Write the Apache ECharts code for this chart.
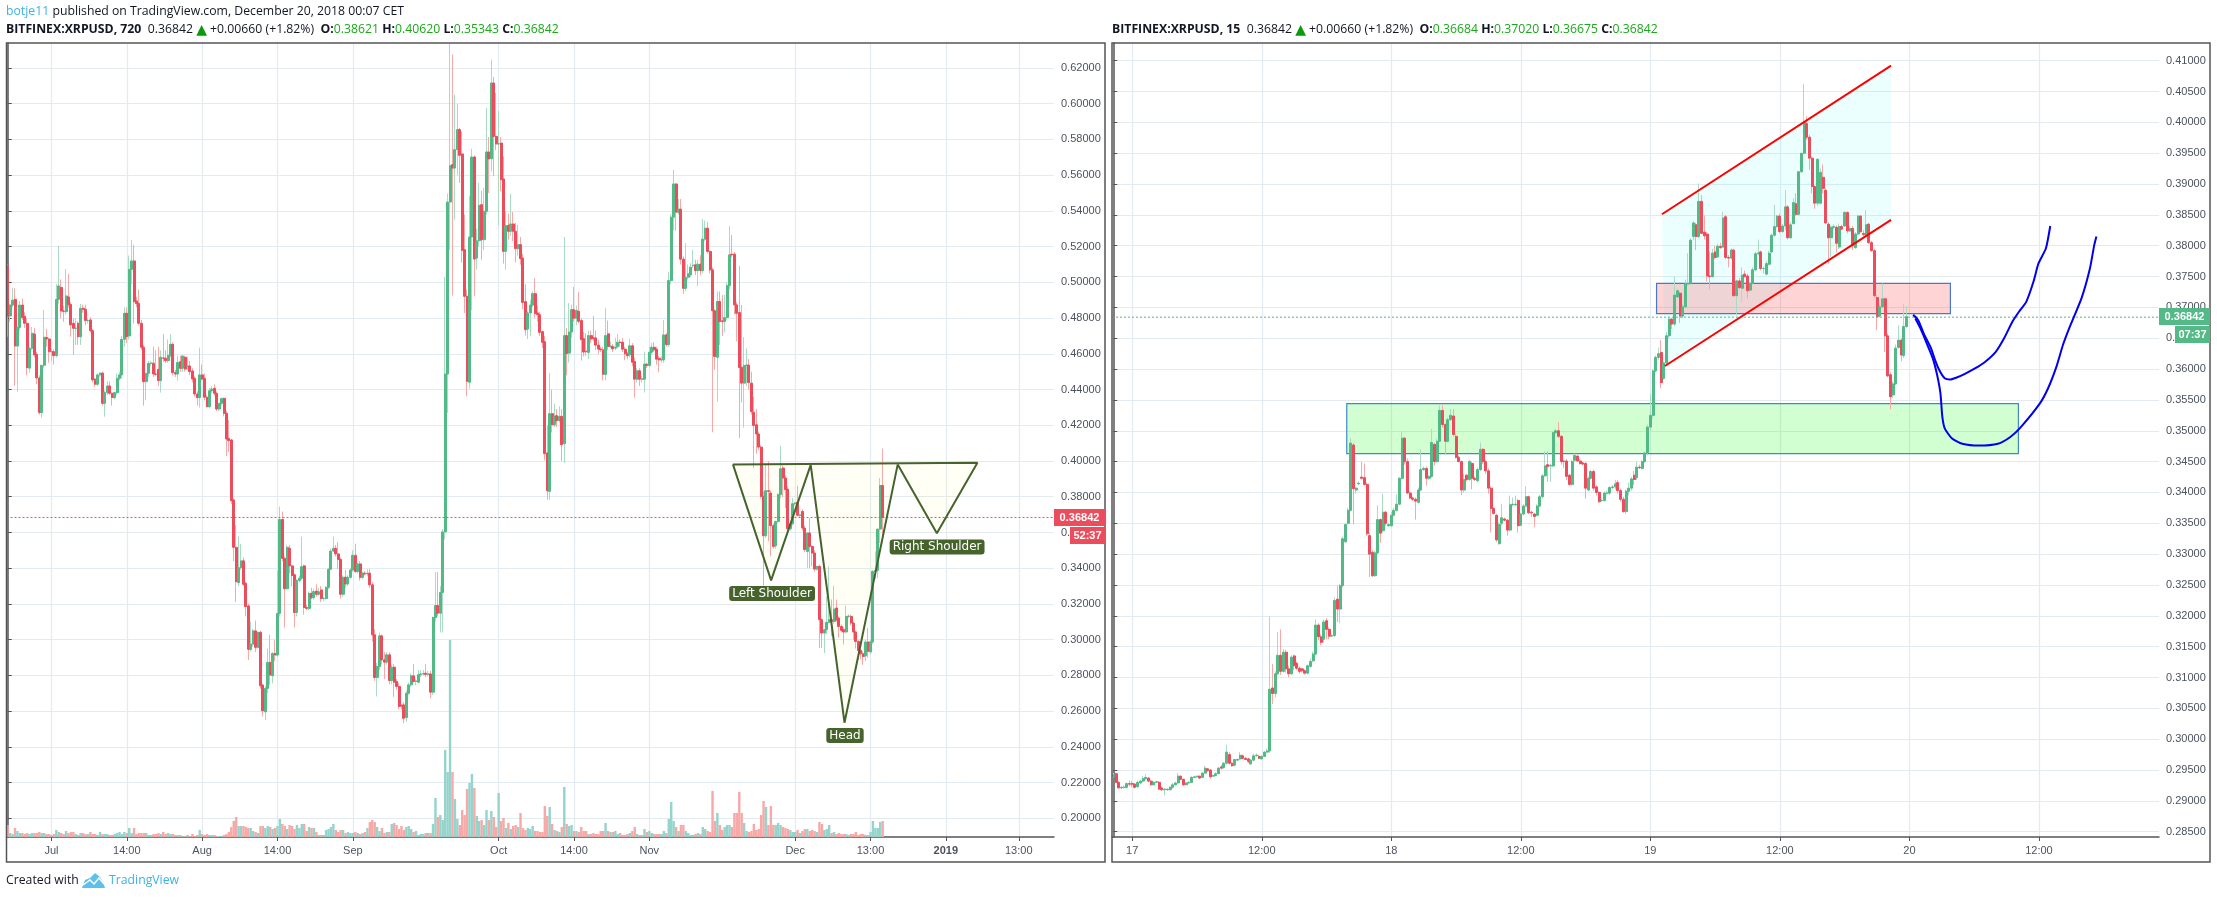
<!DOCTYPE html>
<html><head><meta charset="utf-8"><title>XRPUSD</title>
<style>html,body{margin:0;padding:0;background:#fff}#c{width:2217px;height:899px}</style>
<script src="https://cdn.jsdelivr.net/npm/echarts@6/dist/echarts.min.js"></script></head>
<body><div id="c"></div><script>
// Prices are in 1/10000 USD.
const lOpen=[5092,4812,4873,4905,4644,4748,4873,4810,4771,4520,
4631,4711,4598,4465,4271,4536,4691,4683,4612,4612,
4590,4905,4972,4840,4836,4918,4877,4771,4743,4771,
4696,4855,4849,4786,4790,4730,4458,4430,4482,4492,
4323,4383,4420,4379,4355,4383,4463,4482,4681,4827,
4700,5073,5120,4896,4883,4771,4637,4444,4491,4547,
4547,4487,4513,4450,4577,4575,4562,4592,4653,4495,
4487,4556,4519,4581,4528,4532,4504,4463,4375,4355,
4482,4463,4357,4304,4393,4407,4379,4291,4323,4351,
4267,4127,4118,3782,3517,3319,3403,3441,3316,3189,
2946,2975,3049,2957,3041,2746,2596,2727,2873,2798,
2923,2914,3147,3673,3455,3285,3511,3413,3363,3152,
3331,3344,3413,3180,3175,3259,3235,3272,3254,3278,
3230,3230,3293,3394,3496,3511,3480,3449,3254,3349,
3312,3349,3390,3472,3381,3424,3349,3372,3368,3372,
3307,3027,2788,2850,3021,2887,2874,2915,2771,2846,
2766,2738,2631,2635,2564,2700,2747,2797,2766,2762,
2803,2808,2812,2806,2808,2706,3124,3191,3148,3264,
3603,4487,5450,5659,5640,5743,5855,5719,5183,4922,
4441,5254,5702,5136,5233,5435,5239,5398,5730,5692,
6116,5817,5775,5780,5579,5174,5319,5286,5327,5286,
5189,5211,5136,4892,4739,4829,4873,4937,4829,4819,
4724,4668,4045,3830,4265,4203,4254,4226,4250,4097,
4702,4604,4722,4847,4799,4838,4786,4685,4614,4608,
4702,4689,4689,4649,4627,4622,4485,4712,4642,4641,
4632,4641,4665,4665,4626,4600,4594,4645,4557,4458,
4505,4458,4458,4542,4535,4609,4637,4626,4575,4566,
4566,4706,4652,5010,5365,5551,5393,5410,5130,4967,
5029,5042,5094,5098,5066,5102,5066,5242,5303,5173,
5070,4841,4581,4893,4785,4781,4803,4982,5158,5158,
4874,4831,4525,4436,4535,4537,4436,4273,4203,4151,
4078,3802,3582,3834,3821,3638,3526,3662,3812,3961,
3905,3843,3621,3649,3761,3769,3696,3718,3625,3494,
3597,3522,3485,3395,3410,3112,3037,3056,3097,3112,
3102,3177,3121,3074,3056,3043,3130,3130,3093,3043,
2990,2940,2921,2910,2987,2931,2987,3382,3388,3619,3863];
const lClose=[4812,4873,4901,4644,4748,4873,4803,4771,4523,4631,
4715,4594,4465,4271,4536,4693,4683,4612,4613,4590,
4905,4980,4840,4838,4924,4877,4762,4743,4744,4696,
4855,4849,4786,4787,4730,4454,4430,4482,4492,4323,
4383,4420,4379,4355,4383,4463,4482,4681,4827,4696,
5073,5120,4892,4881,4771,4637,4444,4491,4547,4548,
4487,4486,4450,4581,4575,4562,4592,4653,4495,4487,
4552,4519,4588,4515,4532,4500,4459,4375,4355,4482,
4459,4357,4304,4393,4403,4379,4291,4323,4351,4267,
4123,4114,3778,3517,3325,3403,3441,3310,3185,2946,
2975,3049,2957,3041,2742,2602,2727,2873,2802,2923,
2914,3147,3673,3455,3285,3517,3413,3359,3152,3331,
3344,3409,3180,3175,3259,3235,3269,3254,3268,3230,
3231,3293,3394,3496,3511,3480,3449,3254,3349,3312,
3349,3390,3472,3381,3424,3349,3372,3368,3372,3307,
3027,2788,2850,3021,2887,2874,2915,2771,2846,2762,
2738,2626,2629,2560,2700,2747,2797,2766,2768,2803,
2808,2810,2806,2808,2706,3124,3191,3148,3264,3603,
4487,5450,5653,5640,5743,5855,5711,5179,4922,4446,
5254,5702,5131,5233,5431,5239,5398,5730,5691,6116,
5817,5775,5776,5575,5174,5319,5286,5327,5286,5189,
5211,5133,4888,4735,4829,4873,4937,4825,4819,4720,
4664,4041,3834,4265,4203,4250,4226,4250,4091,4702,
4601,4722,4847,4799,4843,4782,4679,4610,4612,4702,
4683,4687,4649,4627,4623,4486,4702,4641,4644,4628,
4637,4665,4663,4626,4600,4590,4645,4553,4458,4505,
4458,4460,4542,4535,4609,4637,4622,4570,4566,4568,
4706,4652,5010,5365,5551,5393,5410,5130,4967,5029,
5048,5085,5096,5066,5102,5066,5242,5303,5173,5070,
4841,4585,4893,4781,4781,4803,4982,5154,5154,4874,
4827,4523,4436,4535,4537,4439,4277,4199,4151,4078,
3802,3582,3834,3830,3638,3522,3662,3812,3957,3905,
3840,3621,3649,3761,3765,3696,3698,3625,3504,3597,
3522,3485,3395,3410,3112,3037,3056,3097,3112,3102,
3171,3112,3074,3052,3043,3130,3132,3093,3043,2990,
2940,2921,2906,2987,2935,2987,3382,3388,3619,3863,3684];
const lHigh=[5100,4880,4970,4967,4755,4896,4910,4835,4800,4640,
4750,4745,4610,4480,4285,4845,4740,4690,4630,4625,
4990,5204,5017,4870,5075,5047,4890,4800,4800,4780,
4880,4875,4875,4800,4805,4740,4465,4490,4495,4500,
4395,4445,4445,4385,4390,4490,4500,4700,4860,4860,
5150,5237,5209,4920,4960,4790,4650,4470,4560,4560,
4640,4620,4640,4620,4711,4620,4680,4710,4665,4510,
4590,4590,4590,4590,4585,4560,4520,4475,4390,4635,
4540,4490,4370,4410,4420,4430,4390,4300,4340,4355,
4280,4230,4125,3790,3640,3577,3536,3460,3325,3200,
3101,3060,3107,3045,3050,2750,2740,2950,3026,2930,
3000,3387,3745,3717,3465,3530,3530,3420,3370,3340,
3360,3577,3420,3195,3270,3290,3285,3310,3290,3300,
3240,3300,3400,3510,3577,3530,3545,3460,3360,3390,
3360,3400,3500,3537,3430,3440,3380,3385,3395,3395,
3320,3060,2870,3040,3030,2930,2930,2930,2860,2863,
2780,2760,2640,2650,2715,2760,2810,2863,2780,2830,
2830,2830,2863,2825,2825,3130,3378,3378,3300,3620,
5030,5497,6336,6275,6051,6000,5865,5845,5379,4960,
5485,5748,5710,5300,5556,5513,5528,5976,5814,6247,
6150,6060,5961,5814,5705,5398,5385,5497,5394,5332,
5323,5254,5160,4990,4840,4903,4950,5024,4870,4835,
4730,4700,4200,4493,4399,4321,4290,4306,4291,5254,
4745,4884,4875,4974,4870,4945,4800,4722,4715,4730,
4730,4811,4730,4680,4640,4640,4855,4786,4670,4655,
4690,4712,4680,4690,4640,4610,4684,4660,4580,4520,
4520,4475,4613,4550,4640,4660,4665,4640,4590,4585,
4790,4715,5060,5380,5630,5555,5467,5467,5145,5219,
5100,5107,5182,5126,5126,5152,5354,5346,5337,5180,
5085,4850,4949,4949,4930,4930,5000,5316,5266,5170,
4890,5092,4874,4693,4630,4570,4500,4360,4292,4165,
4090,3830,3979,3998,3835,3650,3665,3820,4086,3975,
3920,3860,3655,3793,3770,3862,3705,3730,3640,3600,
3681,3530,3500,3415,3420,3120,3060,3242,3410,3225,
3302,3224,3130,3085,3070,3190,3140,3140,3100,3050,
3000,2950,2935,3000,3065,3000,3390,3494,3540,3905,4069];
const lLow=[4696,4780,4860,4422,4388,4730,4790,4745,4480,4495,
4620,4580,4430,4260,4243,4520,4640,4550,4560,4540,
4580,4880,4800,4780,4820,4860,4696,4594,4650,4650,
4650,4830,4760,4770,4720,4440,4415,4420,4470,4310,
4248,4370,4370,4310,4345,4370,4450,4460,4640,4660,
4680,4990,4771,4860,4760,4620,4310,4340,4470,4530,
4470,4475,4420,4383,4555,4550,4550,4580,4480,4470,
4450,4500,4500,4500,4510,4480,4440,4360,4310,4300,
4450,4340,4300,4295,4380,4365,4280,4280,4310,4250,
4028,4050,3760,3440,3211,3300,3390,3300,3130,2886,
2935,2960,2930,2950,2725,2570,2550,2700,2745,2756,
2880,2905,3130,3440,3068,3280,3370,3300,3068,3130,
3320,3335,3140,3165,3165,3225,3225,3240,3245,3210,
3215,3225,3280,3390,3490,3465,3395,3230,3240,3290,
3300,3340,3380,3375,3370,3330,3340,3360,3355,3290,
2990,2770,2682,2830,2860,2780,2860,2750,2750,2680,
2720,2610,2610,2532,2540,2690,2735,2760,2745,2755,
2790,2800,2790,2795,2672,2690,3100,3130,3040,3040,
3560,4269,5179,4927,5351,5603,5556,5110,4828,4362,
4405,4843,4922,5071,5200,5127,5180,5380,5500,5622,
5594,5740,5317,5510,5105,5071,5240,5260,5230,5112,
5150,5100,4850,4702,4683,4698,4860,4800,4780,4700,
4633,4004,3783,3783,4160,4190,4190,4215,4000,3989,
4480,4552,4690,4780,4760,4770,4562,4585,4590,4571,
4660,4670,4620,4600,4610,4452,4450,4620,4630,4610,
4620,4630,4640,4610,4565,4570,4580,4530,4355,4440,
4421,4440,4383,4520,4525,4595,4610,4540,4497,4550,
4550,4640,4640,4990,5290,5290,5380,5100,4936,4950,
5015,5030,5080,5040,4980,5040,5050,5230,5160,5050,
4161,4510,4333,4650,4700,4720,4790,4960,5140,4820,
4669,4128,4327,4187,4420,4400,4260,3962,4041,4060,
3790,3302,3570,3550,3466,3510,3510,3650,3790,3798,
3737,3610,3610,3640,3750,3690,3680,3610,3490,3401,
3401,3410,3380,3385,2953,2953,2925,3030,3090,3020,
3090,3100,3009,3040,2973,3035,3120,3080,3000,2950,
2888,2890,2860,2880,2900,2920,2975,3340,3345,3541,3541];
const lVolume=[12,4,3,9,6,4,4,3,4,3,
4,4,4,5,4,4,3,3,2,3,
7,5,4,3,6,4,5,5,3,2,
4,4,3,3,5,3,3,2,5,3,
3,3,2,2,3,4,5,3,5,4,
9,4,9,3,4,4,4,4,2,2,
3,3,4,3,5,3,4,3,3,2,
2,2,1,1,2,1,3,1,2,7,
3,2,3,2,2,2,1,1,1,2,
3,5,10,16,20,11,11,11,10,9,
9,6,5,4,11,11,9,11,10,8,
9,11,18,13,11,8,12,11,8,12,
9,13,13,6,10,9,9,5,2,2,
2,7,8,10,13,7,5,7,7,4,
5,4,4,5,4,3,4,5,9,15,
17,15,10,6,9,4,5,5,13,14,
12,8,11,7,10,11,8,5,6,2,
3,3,4,4,4,13,39,20,22,17,
87,65,197,65,38,18,12,27,22,48,
54,63,49,21,16,17,12,27,17,26,
20,10,44,16,19,9,14,8,11,12,
10,24,9,7,9,8,11,6,6,5,
5,31,21,30,13,7,6,5,10,50,
13,11,12,6,6,5,10,6,6,3,
3,4,3,3,6,6,14,6,5,5,
6,3,4,2,2,3,4,6,10,3,
2,2,8,5,6,4,3,3,3,3,
6,4,18,35,16,10,6,12,12,6,
4,2,2,3,4,3,10,8,6,5,
46,16,24,12,7,10,12,12,10,24,
24,45,24,14,6,5,6,13,7,8,
22,36,30,12,31,12,12,14,12,10,
9,8,7,5,5,7,4,6,8,8,
6,7,6,5,15,13,7,8,12,4,
5,3,4,3,3,3,2,3,3,5,
2,3,3,2,2,5,16,9,9,15,16];
const rOpen=[2940,2944,2930,2921,2922,2922,2928,2928,2927,2923,
2929,2932,2936,2937,2932,2926,2930,2930,2921,2918,
2918,2918,2922,2926,2929,2940,2935,2926,2929,2930,
2938,2939,2940,2938,2945,2952,2950,2940,2941,2944,
2955,2954,2961,2975,2961,2958,2966,2968,2973,2969,
2968,2960,2966,2973,2972,2968,2972,2979,2981,3083,
3074,3106,3136,3110,3141,3114,3106,3135,3123,3115,
3114,3111,3107,3118,3127,3138,3185,3166,3162,3192,
3178,3167,3168,3227,3211,3249,3320,3350,3371,3477,
3404,3414,3425,3424,3413,3330,3303,3265,3302,3356,
3338,3368,3346,3346,3363,3371,3381,3423,3488,3450,
3399,3391,3389,3384,3404,3437,3439,3423,3426,3478,
3450,3483,3533,3510,3483,3518,3524,3491,3457,3450,
3404,3428,3421,3447,3423,3419,3437,3470,3450,3435,
3407,3374,3363,3317,3350,3357,3355,3339,3380,3380,
3387,3347,3365,3378,3393,3368,3365,3363,3378,3393,
3427,3445,3443,3443,3497,3500,3491,3451,3451,3428,
3413,3452,3459,3451,3448,3447,3404,3423,3434,3409,
3400,3387,3387,3399,3399,3408,3409,3416,3403,3389,
3369,3402,3407,3428,3424,3441,3439,3450,3464,3506,
3525,3597,3619,3627,3585,3610,3654,3681,3673,3717,
3723,3686,3701,3738,3739,3815,3834,3815,3872,3822,
3819,3751,3750,3790,3782,3799,3798,3847,3781,3780,
3793,3719,3743,3731,3754,3751,3728,3739,3761,3787,
3790,3763,3754,3770,3790,3817,3831,3848,3823,3832,
3863,3813,3836,3868,3851,3920,3950,3998,3976,3942,
3896,3869,3869,3911,3890,3835,3813,3830,3830,3798,
3831,3832,3854,3824,3828,3797,3819,3848,3820,3817,
3835,3805,3792,3716,3686,3701,3714,3654,3591,3558,
3576,3635,3647,3622,3669];
const rClose=[2942,2930,2921,2922,2922,2928,2927,2927,2922,2930,
2932,2936,2938,2932,2926,2930,2931,2919,2918,2919,
2919,2922,2926,2929,2940,2935,2926,2929,2930,2938,
2939,2940,2937,2945,2953,2949,2939,2941,2944,2953,
2953,2961,2979,2961,2957,2967,2967,2974,2969,2967,
2964,2966,2973,2974,2969,2972,2979,2981,3081,3074,
3106,3136,3110,3141,3114,3106,3133,3119,3115,3110,
3111,3107,3119,3126,3138,3185,3166,3157,3190,3178,
3167,3168,3225,3211,3249,3325,3348,3371,3480,3406,
3407,3415,3423,3413,3333,3300,3265,3302,3356,3334,
3368,3350,3348,3363,3371,3381,3423,3488,3450,3399,
3391,3389,3386,3404,3437,3439,3423,3426,3481,3450,
3483,3533,3510,3483,3518,3525,3494,3457,3450,3404,
3421,3421,3450,3423,3421,3437,3470,3450,3435,3407,
3374,3366,3323,3348,3359,3355,3339,3380,3381,3381,
3346,3365,3378,3393,3367,3367,3361,3378,3393,3427,
3443,3442,3444,3497,3500,3491,3450,3450,3426,3413,
3450,3460,3451,3447,3446,3407,3423,3434,3407,3400,
3385,3387,3399,3399,3408,3409,3414,3403,3389,3369,
3402,3407,3422,3421,3441,3440,3450,3464,3506,3525,
3597,3619,3625,3578,3610,3654,3681,3673,3720,3727,
3686,3701,3738,3739,3809,3837,3815,3872,3820,3816,
3751,3750,3788,3781,3799,3797,3845,3781,3780,3793,
3719,3743,3732,3752,3750,3727,3739,3761,3787,3788,
3763,3763,3771,3788,3817,3831,3848,3823,3832,3863,
3813,3834,3870,3851,3920,3950,4001,3976,3942,3896,
3869,3940,3919,3893,3837,3813,3830,3831,3804,3831,
3827,3854,3824,3828,3800,3819,3848,3823,3818,3834,
3805,3792,3719,3685,3701,3714,3654,3589,3555,3576,
3634,3647,3623,3669,3685];
const rHigh=[2945,2946,2932,2924,2925,2930,2933,2932,2929,2933,
2934,2940,2943,2939,2934,2928,2932,2932,2923,2921,
2920,2924,2929,2931,2945,2941,2936,2930,2932,2940,
2941,2941,2941,2947,2957,2952,2952,2942,2946,2955,
2958,2963,2991,2979,2963,2968,2969,2979,2975,2971,
2970,2968,2976,2977,2975,2974,2981,2985,3199,3122,
3110,3174,3178,3146,3145,3119,3136,3137,3126,3118,
3116,3113,3121,3131,3142,3194,3188,3170,3194,3196,
3181,3170,3230,3249,3252,3328,3350,3375,3488,3480,
3409,3418,3450,3447,3416,3335,3306,3305,3379,3358,
3398,3370,3350,3368,3375,3397,3425,3499,3490,3455,
3402,3393,3392,3408,3470,3442,3442,3428,3503,3480,
3487,3541,3541,3512,3522,3535,3535,3495,3460,3452,
3430,3430,3453,3450,3426,3440,3481,3472,3453,3439,
3410,3376,3365,3352,3381,3359,3357,3395,3392,3395,
3389,3367,3381,3410,3395,3370,3367,3381,3396,3430,
3467,3467,3447,3499,3503,3514,3493,3453,3454,3430,
3453,3463,3460,3454,3450,3450,3426,3437,3437,3412,
3402,3390,3402,3403,3410,3412,3420,3420,3406,3393,
3405,3416,3425,3435,3450,3445,3452,3466,3510,3560,
3600,3622,3635,3647,3612,3660,3685,3683,3750,3730,
3726,3705,3745,3788,3812,3840,3837,3901,3882,3849,
3822,3790,3795,3800,3803,3805,3855,3850,3785,3796,
3795,3745,3748,3765,3760,3755,3741,3765,3790,3810,
3792,3766,3775,3792,3820,3866,3850,3852,3835,3890,
3866,3838,3877,3885,3855,3935,4062,4010,3980,3945,
3898,3942,3925,3932,3893,3838,3833,3835,3833,3836,
3834,3856,3856,3832,3832,3822,3850,3850,3825,3858,
3837,3808,3795,3720,3705,3739,3716,3658,3595,3580,
3640,3671,3650,3706,3702];
const rLow=[2938,2929,2920,2919,2920,2920,2924,2922,2920,2921,
2927,2930,2934,2930,2925,2925,2929,2918,2916,2909,
2916,2917,2920,2925,2928,2934,2924,2925,2928,2929,
2937,2938,2935,2937,2944,2947,2936,2939,2940,2943,
2951,2952,2959,2959,2955,2956,2965,2966,2967,2966,
2961,2958,2964,2972,2968,2967,2971,2978,2978,3057,
3068,3104,3104,3108,3108,3100,3104,3112,3112,3106,
3108,3105,3105,3116,3125,3136,3160,3152,3157,3162,
3162,3166,3165,3190,3188,3246,3318,3348,3369,3348,
3398,3412,3421,3411,3330,3263,3263,3263,3300,3318,
3335,3346,3344,3344,3361,3369,3379,3421,3445,3398,
3389,3386,3356,3382,3402,3435,3411,3420,3424,3444,
3448,3481,3505,3462,3481,3516,3490,3455,3450,3396,
3400,3418,3419,3405,3418,3416,3435,3446,3430,3398,
3335,3364,3320,3315,3346,3353,3330,3337,3378,3378,
3335,3345,3363,3376,3365,3360,3344,3361,3376,3390,
3425,3417,3417,3441,3495,3488,3445,3440,3420,3411,
3411,3450,3450,3445,3444,3390,3402,3421,3403,3395,
3383,3385,3385,3396,3396,3405,3405,3398,3385,3367,
3365,3395,3403,3412,3420,3438,3437,3448,3460,3500,
3520,3595,3615,3569,3583,3608,3650,3665,3670,3715,
3675,3683,3700,3735,3736,3809,3793,3812,3820,3810,
3742,3729,3748,3778,3780,3795,3796,3778,3765,3778,
3717,3687,3730,3709,3748,3715,3725,3737,3759,3785,
3760,3755,3752,3768,3788,3815,3829,3820,3821,3825,
3810,3811,3834,3848,3849,3918,3948,3972,3923,3885,
3860,3865,3867,3885,3835,3771,3782,3826,3789,3795,
3825,3830,3820,3822,3793,3795,3817,3821,3815,3815,
3803,3790,3716,3663,3684,3699,3628,3587,3535,3553,
3574,3633,3613,3618,3667];

const lTickIndex=[18,49,80,111,142,202,233,264,324,355,386,416];
const lTickLabel=['Jul','14:00','Aug','14:00','Sep','Oct','14:00','Nov','Dec','13:00','2019','13:00'];
const rTickIndex=[7,55,103,151,199,247,295,343];
const rTickLabel=['17','12:00','18','12:00','19','12:00','20','12:00'];
const lPriceTicks=[0.20,0.22,0.24,0.26,0.28,0.30,0.32,0.34,0.36,0.38,0.40,0.42,0.44,0.46,0.48,0.50,0.52,0.54,0.56,0.58,0.60,0.62];
const rPriceTicks=[0.285,0.29,0.295,0.30,0.305,0.31,0.315,0.32,0.325,0.33,0.335,0.34,0.345,0.35,0.355,0.36,0.365,0.37,0.375,0.38,0.385,0.39,0.395,0.40,0.405,0.41];
const lastPrice=3684.2;

// drawings: [bar index, price in 1/10000]
const hsOutline=[[298.4,3981],[314.1,3332],[330.4,3978],[344.3,2535],[366.2,3981],[382.3,3595],[399,3990],[298.4,3981]];
const hsLabels=[[314.5,3258,'Left Shoulder'],[344.5,2463,'Head'],[382.4,3518,'Right Shoulder']];
const channelFill=[[203.3,3851],[288.2,4092],[288.2,3842],[204.4,3605]];
const channelUpper=[[203.3,3851],[288.2,4092]];
const channelLower=[[204.4,3605],[288.2,3842]];
const zoneResistance=[[201.3,3739],[310.2,3739],[310.2,3690],[201.3,3690]];
const zoneSupport=[[86.5,3544],[335.4,3544],[335.4,3463],[86.5,3463]];
const curveUpper=[[296.4,3688],[298.3,3679],[300.3,3658],[303,3634],[304.5,3615],[306.1,3598],[308.1,3585],[310,3583],[312.3,3586],[315.4,3592],[319.3,3601],[323.1,3612],[327,3628],[330.1,3650],[333.2,3677],[335.6,3693],[338.3,3709],[341,3742],[342.8,3771],[345.6,3796],[347.2,3832]];
const curveLower=[[297.2,3682],[299.1,3666],[301.4,3642],[303.7,3617],[305.3,3590],[306.5,3561],[307.2,3523],[308.1,3504],[310.7,3488],[314.6,3479],[320.8,3476],[327.8,3479],[332.4,3490],[336.3,3506],[343.3,3544],[346.4,3569],[349.5,3604],[351.9,3639],[354.2,3666],[358.8,3715],[361.9,3763],[363.5,3801],[364.3,3815]];

const L_BARS=431,R_BARS=388;
const UP='#53B987',DOWN='#EB4D5C',UPW='#A9DCC3',DOWNW='#F7A9A7',VUP='#94D4CC',VDOWN='#F7A9A7';
const GRID='#E3EBF1',AXIS='#555',TXT='#4C525E',SANS='"Liberation Sans",Arial,sans-serif';
const px=a=>a.map(p=>[p[0],p[1]/1e4]);
const cats=(n,idx,lab)=>{const a=new Array(n).fill('');idx.forEach((k,j)=>a[k]=lab[j]);return a;};
const lCats=cats(L_BARS,lTickIndex,lTickLabel),rCats=cats(R_BARS,rTickIndex,rTickLabel);
const full=(o,c,l,h)=>o.map((v,i)=>[v/1e4,c[i]/1e4,l[i]/1e4,h[i]/1e4]);
const body=(o,c)=>o.map((v,i)=>[v/1e4,c[i]/1e4,Math.min(v,c[i])/1e4,Math.max(v,c[i])/1e4]);
const xCat=(g,data,set)=>({type:'category',gridIndex:g,data,boundaryGap:true,
  axisLine:{lineStyle:{color:AXIS,width:1.5}},
  axisTick:{show:true,alignWithLabel:true,length:4,interval:i=>set.has(i),lineStyle:{color:AXIS}},
  splitLine:{show:true,alignWithLabel:true,interval:i=>set.has(i),lineStyle:{color:GRID,width:1.2}},
  axisLabel:{interval:i=>set.has(i),margin:8,color:TXT,fontFamily:SANS,fontSize:11,hideOverlap:false,
    formatter:v=>v==='2019'?'{b|2019}':v,rich:{b:{fontWeight:'bold',fontFamily:SANS,fontSize:11,color:TXT}}}});
const xHidden=(g,n)=>({type:'value',gridIndex:g,min:-0.5,max:n-0.5,show:false,splitLine:{show:false}});
const yPrice=(g,min,max,ticks)=>({type:'value',gridIndex:g,position:'right',min,max,scale:true,
  axisLine:{show:true,lineStyle:{color:AXIS,width:1.5}},
  axisTick:{show:true,length:4,customValues:ticks,lineStyle:{color:AXIS}},
  axisLabel:{customValues:ticks,margin:7,padding:[2,0,0,0],color:TXT,fontFamily:SANS,fontSize:11,formatter:v=>v.toFixed(5),hideOverlap:false},
  splitLine:{show:true,lineStyle:{color:GRID,width:1.2}}});
const candles=(x,y,o,c,l,h,w,name)=>[
 {name:name+' wick',type:'candlestick',xAxisIndex:x,yAxisIndex:y,data:full(o,c,l,h),barWidth:0.5,large:false,z:3,silent:true,animation:false,
  itemStyle:{color:UPW,color0:DOWNW,borderColor:UPW,borderColor0:DOWNW,borderColorDoji:UPW,borderWidth:1}},
 {name:name,type:'candlestick',xAxisIndex:x,yAxisIndex:y,data:body(o,c),barWidth:w,large:false,z:4,silent:true,animation:false,
  itemStyle:{color:UP,color0:DOWN,borderColor:UP,borderColor0:DOWN,borderColorDoji:UP,borderWidth:1}}];
const poly=(x,y,pts,fill,stroke,z)=>({type:'custom',xAxisIndex:x,yAxisIndex:y,data:[[pts[0][0],pts[0][1]/1e4]],z,silent:true,animation:false,clip:false,
  renderItem:(p,api)=>({type:'polygon',shape:{points:px(pts).map(q=>api.coord(q))},style:{fill,stroke:stroke||null,lineWidth:stroke?1.2:0}})});
const line=(x,y,pts,color,width,z,smooth,type)=>({type:'line',xAxisIndex:x,yAxisIndex:y,data:px(pts),showSymbol:false,symbol:'none',smooth:smooth||false,
  z,silent:true,animation:false,lineStyle:{color,width,type:type||'solid'}});
const FOOT='"Open Sans","Noto Sans",sans-serif';
const G='#1BA81B',FS=12.25;
const hdrRich={n:{fontFamily:FOOT,fontSize:FS,fontWeight:'bold',fill:'#131722'},t:{fontFamily:FOOT,fontSize:FS,fill:'#131722'},
  g:{fontFamily:FOOT,fontSize:FS,fill:G},a:{fontFamily:'"DejaVu Sans"',fontSize:14,fill:'#0A9A0A'},u:{fontFamily:FOOT,fontSize:FS,fill:'#3BB3E4'}};
const hdr=(x,y,text)=>({type:'text',left:x,top:y,z:50,style:{text,rich:hdrRich,font:FS+'px '+FOOT,fill:'#131722'}});
const box=(x,y,w,h,fill,text)=>[{type:'rect',shape:{x,y,width:w,height:h},z:60,style:{fill}},
 {type:'text',z:61,style:{x:x+w/2,y:y+h/2,text,fill:'#fff',font:'bold 11px '+SANS,align:'center',verticalAlign:'middle'}}];
const frame=(x,y,w,h)=>({type:'rect',shape:{x,y,width:w,height:h},z:55,silent:true,style:{fill:'none',stroke:AXIS,lineWidth:1.5}});

const option={animation:false,backgroundColor:'#fff',
 grid:[{left:6.5,top:43,width:1047.5,height:794},{left:1112,top:43,width:1047,height:794}],
 xAxis:[xCat(0,lCats,new Set(lTickIndex)),xCat(1,rCats,new Set(rTickIndex)),xHidden(0,L_BARS),xHidden(1,R_BARS)],
 yAxis:[yPrice(0,0.18953,0.6340,lPriceTicks),yPrice(1,0.28414,0.41287,rPriceTicks),
  {type:'value',gridIndex:0,min:0,max:794,show:false,splitLine:{show:false}}],
 series:[
  poly(3,1,channelFill,'rgba(0,255,255,0.08)',null,1),
  poly(3,1,zoneResistance,'rgba(255,0,0,0.17)','#4A78C8',1),
  poly(3,1,zoneSupport,'rgba(0,255,0,0.18)','#3F8AC8',1),
  poly(2,0,hsOutline,'rgba(255,255,0,0.04)',null,1),
  {name:'Volume',type:'bar',xAxisIndex:0,yAxisIndex:2,barWidth:'100%',z:2,silent:true,animation:false,
   data:lVolume.map((v,i)=>({value:v,itemStyle:{color:lClose[i]>=lOpen[i]?VUP:VDOWN}}))},
  ...candles(0,0,lOpen,lClose,lLow,lHigh,2.5,'XRPUSD 720'),
  ...candles(1,1,rOpen,rClose,rLow,rHigh,2.5,'XRPUSD 15'),
  line(2,0,[[-0.5,lastPrice],[L_BARS-0.5,lastPrice]],DOWN,1,6,false,[2,2]),
  line(3,1,[[-0.5,lastPrice],[R_BARS-0.5,lastPrice]],UP,1,6,false,[2,2]),
  line(2,0,hsOutline,'#45632B',2,7),
  line(3,1,channelUpper,'#FF0000',2,7),
  line(3,1,channelLower,'#FF0000',2,7),
  line(3,1,curveUpper,'#0000EE',2,8,0.2),
  line(3,1,curveLower,'#0000EE',2,8,0.2),
  {type:'custom',xAxisIndex:2,yAxisIndex:0,z:9,silent:true,animation:false,clip:false,
   data:hsLabels.map(a=>[a[0],a[1]/1e4]),encode:{x:0,y:1},
   renderItem:(p,api)=>{const c=api.coord([api.value(0),api.value(1)]);return {type:'text',style:{x:c[0],y:c[1],text:hsLabels[p.dataIndex][2],
     fill:'#fff',font:'12px "DejaVu Sans"',align:'center',verticalAlign:'middle',backgroundColor:'#45632B',padding:[2,3,1,3],borderRadius:3}};}}
 ],
 graphic:[
  frame(6.5,43,1098.5,819),frame(1112,43,1098,819),
  hdr(6,6,'{u|botje11} {t|published on TradingView.com, December 20, 2018 00:07 CET}'),
  hdr(6,23,'{n|BITFINEX:XRPUSD, 720}  {t|0.36842} {a|▲} {t|+0.00660 (+1.82%)}  {n|O:}{g|0.38621} {n|H:}{g|0.40620} {n|L:}{g|0.35343} {n|C:}{g|0.36842}'),
  hdr(1112,23,'{n|BITFINEX:XRPUSD, 15}  {t|0.36842} {a|▲} {t|+0.00660 (+1.82%)}  {n|O:}{g|0.36684} {n|H:}{g|0.37020} {n|L:}{g|0.36675} {n|C:}{g|0.36842}'),
  hdr(6,875,'{t|Created with}'),
  hdr(109,875,'{u|TradingView}'),
  {type:'polygon',z:50,shape:{points:[[82,888],[85,880],[90,878],[95,873],[100,877],[103,882],[105,888]]},style:{fill:'#5BC0EB'}},
  {type:'polyline',z:51,shape:{points:[[83,885],[90,880],[94,884],[99,878],[104,884]]},style:{fill:'none',stroke:'#fff',lineWidth:1.5}},
  ...box(1054,509,51,17,DOWN,'0.36842'),...box(1070,527,35,17,DOWN,'52:37'),
  ...box(2159,308,51,17,UP,'0.36842'),...box(2175,326,35,17,UP,'07:37')
 ]};
echarts.init(document.getElementById('c'),null,{renderer:'canvas'}).setOption(option);
</script></body></html>
